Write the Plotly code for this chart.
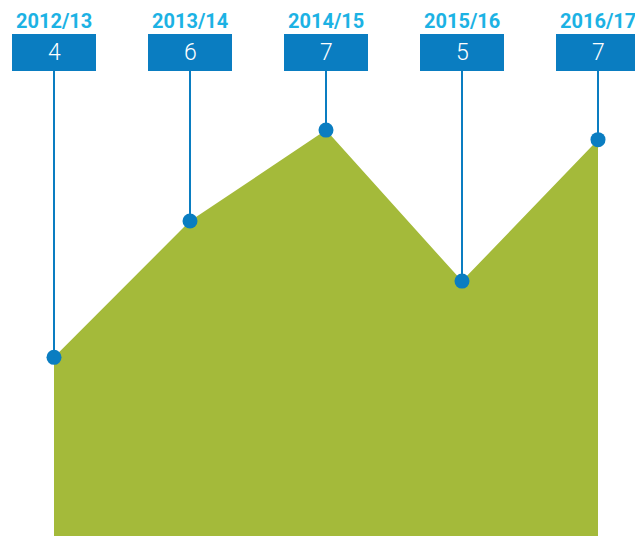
import plotly.graph_objects as go

# Data
seasons = ["2012/13", "2013/14", "2014/15", "2015/16", "2016/17"]
values = [4.0, 5.86, 7.1, 5.04, 6.97]        # plotted (estimated) values
labels = ["4", "6", "7", "5", "7"]           # displayed rounded labels

W, H = 635, 536
BLUE = "#0A7DC1"
CYAN = "#1CB2E4"
GREEN = "#A4BA3A"

x = list(range(len(seasons)))
px_per_x = 136.0
x0_px = 54.0
xr = [-x0_px / px_per_x, (W - x0_px) / px_per_x]
yr = [1.563, 8.875]

def py_to_y(p):
    return yr[1] - p / H * (yr[1] - yr[0])

box_top = py_to_y(34)
box_bot = py_to_y(71)
half_w = 42 / px_per_x

fig = go.Figure()
fig.add_trace(go.Scatter(x=x, y=values, mode="lines", line=dict(width=0, color=GREEN),
                         fill="tozeroy", fillcolor=GREEN, hoverinfo="skip"))

shapes = []
for xi, v in zip(x, values):
    shapes.append(dict(type="line", xref="x", yref="y", x0=xi, x1=xi, y0=v, y1=box_bot,
                       line=dict(color=BLUE, width=2), layer="above"))
    shapes.append(dict(type="rect", xref="x", yref="y", x0=xi - half_w, x1=xi + half_w,
                       y0=box_bot, y1=box_top, fillcolor=BLUE, line=dict(width=0), layer="above"))

fig.add_trace(go.Scatter(x=x, y=values, mode="markers",
                         marker=dict(size=15, color=BLUE), hoverinfo="skip"))

annotations = []
for xi, s, lab in zip(x, seasons, labels):
    annotations.append(dict(x=xi, y=(box_top + box_bot) / 2, xref="x", yref="y", text=lab,
                            showarrow=False, font=dict(family="Roboto", size=23, color="white", weight=300),
                            xanchor="center", yanchor="middle"))
    annotations.append(dict(x=xi, y=py_to_y(21), xref="x", yref="y", text=s,
                            showarrow=False, font=dict(family="Roboto", size=20, color=CYAN, weight=700),
                            xanchor="center", yanchor="middle"))

fig.update_layout(
    width=W, height=H, margin=dict(l=0, r=0, t=0, b=0),
    paper_bgcolor="white", plot_bgcolor="white", showlegend=False,
    xaxis=dict(range=xr, visible=False, fixedrange=True),
    yaxis=dict(range=yr, visible=False, fixedrange=True),
    shapes=shapes, annotations=annotations,
)

fig.write_html("out.html", config={"displayModeBar": False},
               post_script="document.body.style.margin='0px';document.body.style.overflow='hidden';")
